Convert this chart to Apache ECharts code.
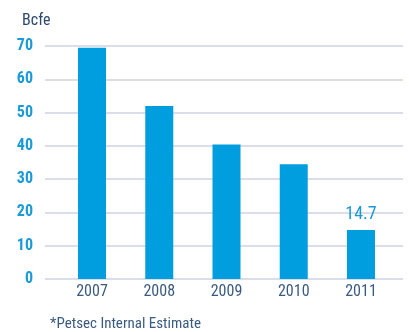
<!DOCTYPE html>
<html>
<head>
<meta charset="utf-8">
<script src="https://cdn.jsdelivr.net/npm/echarts@6/dist/echarts.min.js"></script>
<style>
  html, body { margin: 0; padding: 0; background: #fff; }
  #chart { width: 409px; height: 332px; }
</style>
</head>
<body>
<div id="chart"></div>
<script>
  // 数据
  var years = ['2007', '2008', '2009', '2010', '2011'];
  var bcfe = [69.5, 52, 40.4, 34.5, 14.7];
  var yTicks = [0, 10, 20, 30, 40, 50, 60, 70];

  var myChart = echarts.init(document.getElementById('chart'));
  var font = '"Liberation Sans Narrow", "Roboto Condensed", Roboto, sans-serif';
  var option = {
    backgroundColor: '#fff',
    animation: false,
    title: [{
      text: 'Bcfe',
      left: 17,
      top: 8,
      textStyle: { color: '#2b4a6e', fontSize: 16, fontWeight: 'normal', fontFamily: font }
    }, {
      text: '*Petsec Internal Estimate',
      left: 45,
      top: 312,
      textStyle: { color: '#3a5a80', fontSize: 15, fontWeight: 'normal', fontFamily: font }
    }],
    grid: [
      { left: 58.4, right: 14.4, top: 46, bottom: 53 },
      { left: 45, right: 6, top: 46, bottom: 53 }
    ],
    xAxis: [{
      type: 'category',
      gridIndex: 0,
      data: years,
      axisTick: { show: false },
      axisLine: { show: false },
      axisLabel: { color: '#3a5a80', fontSize: 16, fontFamily: font, margin: 5 }
    }, {
      type: 'value',
      gridIndex: 1,
      show: false
    }],
    yAxis: [{
      type: 'value',
      gridIndex: 0,
      min: 0,
      max: 70,
      interval: 10,
      show: false
    }, {
      type: 'value',
      gridIndex: 1,
      min: yTicks[0],
      max: yTicks[yTicks.length - 1],
      interval: 10,
      axisTick: { show: false },
      axisLine: { show: false },
      axisLabel: { color: '#1a9ad6', fontSize: 16, fontWeight: 'bold', fontFamily: font, margin: 12 },
      splitLine: { show: true, lineStyle: { color: '#cfd3e3', width: 1.5 } }
    }],
    series: [{
      type: 'bar',
      xAxisIndex: 0,
      yAxisIndex: 0,
      data: bcfe.map(function (v, i) {
        var item = { value: v };
        if (i === bcfe.length - 1) {
          item.label = {
            show: true,
            position: 'top',
            distance: 7,
            color: '#1a9ad6',
            fontSize: 18,
            fontFamily: font
          };
        }
        return item;
      }),
      barWidth: 28,
      itemStyle: { color: '#009edf' }
    }]
  };
  myChart.setOption(option, true);
</script>
</body>
</html>
